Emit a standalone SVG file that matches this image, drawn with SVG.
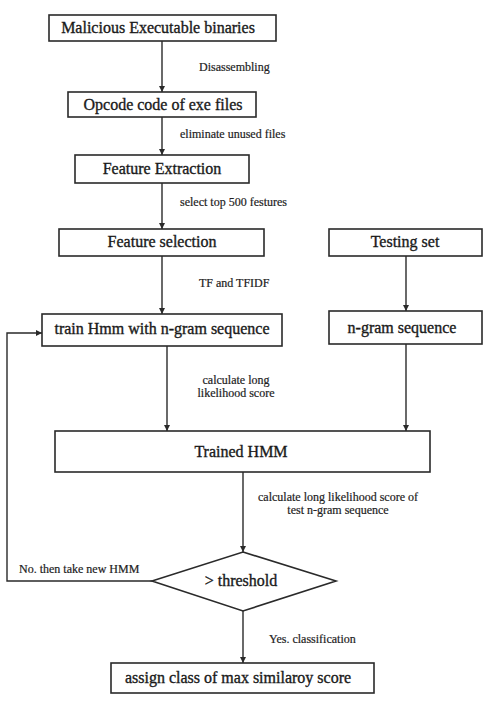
<svg xmlns="http://www.w3.org/2000/svg" width="487" height="703" viewBox="0 0 487 703">
  <style>
    .box { fill: #ffffff; stroke: #2a2a2a; stroke-width: 1.6; }
    .wire { fill: none; stroke: #2a2a2a; stroke-width: 1.4; }
    .title { font-family: "Liberation Serif", "Times New Roman", serif; font-size: 16px; fill: #1a1a1a; stroke: #1a1a1a; stroke-width: 0.35; text-anchor: middle; }
    .note { font-family: "Liberation Serif", "Times New Roman", serif; font-size: 12px; fill: #222222; stroke: #222222; stroke-width: 0.2; }
    .mid { text-anchor: middle; }
  </style>
  <defs>
    <marker id="arrow" viewBox="0 0 10 10" refX="10" refY="5" markerWidth="6" markerHeight="6" markerUnits="userSpaceOnUse" orient="auto">
      <path d="M0,0 L10,5 L0,10 z" fill="#2a2a2a"/>
    </marker>
  </defs>
  <rect width="487" height="703" fill="#ffffff"/>

  <!-- connectors -->
  <g id="connectors">
    <line class="wire" x1="162" y1="41" x2="162" y2="92" marker-end="url(#arrow)"/>
    <line class="wire" x1="162" y1="117" x2="162" y2="155" marker-end="url(#arrow)"/>
    <line class="wire" x1="162" y1="183" x2="162" y2="229" marker-end="url(#arrow)"/>
    <line class="wire" x1="162" y1="256" x2="162" y2="314" marker-end="url(#arrow)"/>
    <line class="wire" x1="406" y1="256" x2="406" y2="311" marker-end="url(#arrow)"/>
    <line class="wire" x1="167" y1="346" x2="167" y2="431" marker-end="url(#arrow)"/>
    <line class="wire" x1="406" y1="344" x2="406" y2="431" marker-end="url(#arrow)"/>
    <line class="wire" x1="243" y1="472" x2="243" y2="552" marker-end="url(#arrow)"/>
    <line class="wire" x1="243" y1="611" x2="243" y2="663" marker-end="url(#arrow)"/>
    <polyline class="wire" points="152,581 7,581 7,333 42,333" marker-end="url(#arrow)"/>

    <text class="note" x="199" y="71">Disassembling</text>
    <text class="note" x="180" y="138">eliminate unused files</text>
    <text class="note" x="180" y="206">select top 500 festures</text>
    <text class="note" x="199" y="287">TF and TFIDF</text>
    <text class="note mid" x="236" y="384">calculate long</text>
    <text class="note mid" x="236" y="397">likelihood score</text>
    <text class="note mid" x="338" y="501">calculate long likelihood score of</text>
    <text class="note mid" x="338" y="514">test n-gram sequence</text>
    <text class="note" x="19" y="573">No. then take new HMM</text>
    <text class="note" x="269" y="643">Yes. classification</text>
  </g>

  <!-- nodes -->
  <g id="malicious-binaries">
    <rect class="box" x="49" y="15" width="227" height="26"/>
    <text class="title" x="158" y="33">Malicious Executable binaries</text>
  </g>
  <g id="opcode">
    <rect class="box" x="68" y="92" width="188" height="25"/>
    <text class="title" x="163" y="110">Opcode code of exe files</text>
  </g>
  <g id="feature-extraction">
    <rect class="box" x="75" y="155" width="174" height="28"/>
    <text class="title" x="162" y="174">Feature Extraction</text>
  </g>
  <g id="feature-selection">
    <rect class="box" x="59" y="229" width="205" height="27"/>
    <text class="title" x="162" y="247">Feature selection</text>
  </g>
  <g id="testing-set">
    <rect class="box" x="329" y="229" width="153" height="27"/>
    <text class="title" x="405" y="247">Testing set</text>
  </g>
  <g id="train-hmm">
    <rect class="box" x="42" y="314" width="240" height="32"/>
    <text class="title" x="162" y="334">train Hmm with n-gram sequence</text>
  </g>
  <g id="ngram-sequence">
    <rect class="box" x="329" y="311" width="153" height="33"/>
    <text class="title" x="402" y="333">n-gram sequence</text>
  </g>
  <g id="trained-hmm">
    <rect class="box" x="55" y="431" width="375" height="41"/>
    <text class="title" x="241" y="457">Trained HMM</text>
  </g>
  <g id="threshold">
    <polygon class="box" points="243,552 336,581 243,611 152,581"/>
    <text class="title" x="241" y="586">&gt; threshold</text>
  </g>
  <g id="assign-class">
    <rect class="box" x="111" y="663" width="263" height="30"/>
    <text class="title" x="238" y="683">assign class of max similaroy score</text>
  </g>
</svg>
